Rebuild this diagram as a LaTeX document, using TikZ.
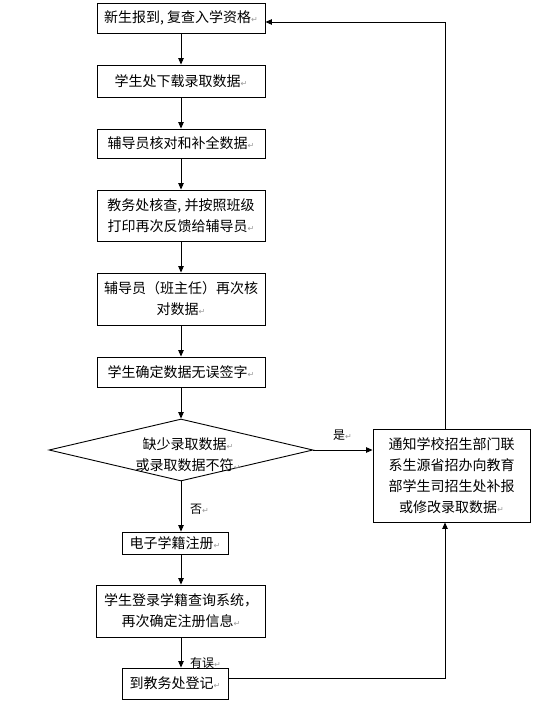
\documentclass[tikz,border=0pt]{standalone}
\usepackage{fontspec}
\usepackage{xcolor}
\setmainfont{Noto Sans CJK SC}
\newfontfamily\markfont{DejaVu Sans}
\usetikzlibrary{arrows.meta,shapes.geometric}
\newcommand{\pmk}{{\markfont\fontsize{8}{8}\selectfont\color{black!40}↵}}

\begin{document}
\begin{tikzpicture}[x=1pt,y=-1pt,
  stepbox/.style={draw,line width=0.9pt,inner sep=0pt,align=center,
    font=\fontsize{14}{21}\selectfont},
  decbox/.style={draw,line width=0.9pt,diamond,inner sep=0pt,
    minimum width=264pt,minimum height=62pt},
  flowtxt/.style={align=center,inner sep=0pt,font=\fontsize{14}{21}\selectfont},
  lbl/.style={inner sep=0pt,font=\fontsize{12}{14}\selectfont},
  arr/.style={line width=0.9pt,-{Triangle[length=6.5pt,width=5.5pt]}},
  ln/.style={line width=0.9pt}]
\useasboundingbox (0,0) rectangle (536,704);
\fill[white] (0,0) rectangle (536,704);

% main column
\node[stepbox,minimum width=168pt,minimum height=30pt] (arrive) at (181,18) {新生报到, 复查入学资格\pmk};
\node[stepbox,minimum width=168pt,minimum height=32pt] (download) at (181,81) {学生处下载录取数据\pmk};
\node[stepbox,minimum width=168pt,minimum height=29pt] (tutor) at (181,143.5) {辅导员核对和补全数据\pmk};
\node[stepbox,minimum width=168pt,minimum height=51pt] (office) at (181,215.5) {教务处核查, 并按照班级\\打印再次反馈给辅导员\pmk};
\node[stepbox,minimum width=168pt,minimum height=52pt] (recheck) at (181,299) {辅导员（班主任）再次核\\对数据\pmk};
\node[stepbox,minimum width=168pt,minimum height=30pt] (sign) at (181,372) {学生确定数据无误签字\pmk};
\node[decbox] (lack) at (181,450) {};
\node[flowtxt] (lacktxt) at (188,455) {缺少录取数据\pmk\\或录取数据不符\pmk};
\node[stepbox,minimum width=106pt,minimum height=22pt] (enrol) at (175,543) {电子学籍注册\pmk};
\node[stepbox,minimum width=169pt,minimum height=52pt] (login) at (181,611) {学生登录学籍查询系统，\\再次确定注册信息\pmk};
\node[stepbox,minimum width=106pt,minimum height=31pt] (reg) at (175,683.5) {到教务处登记\pmk};

% side box
\node[stepbox,minimum width=157pt,minimum height=93pt,text width=150pt] (notify) at (451.5,475.5)
  {通知学校招生部门联\\系生源省招办向教育\\部学生司招生处补报\\或修改录取数据\pmk};

% connectors
\draw[arr] (arrive) -- (download);
\draw[arr] (download) -- (tutor);
\draw[arr] (tutor) -- (office);
\draw[arr] (office) -- (recheck);
\draw[arr] (recheck) -- (sign);
\draw[arr] (sign) -- (lack);
\draw[arr] (lack.south) -- (lack.south |- enrol.north);
\draw[arr] (login.north |- enrol.south) -- (login.north);
\draw[arr] (login.south) -- (login.south |- reg.north);
\draw[arr] (lack.east) -- (notify.west |- lack.east);
\draw[arr] ([xshift=-6.5pt]notify.north) |- ([yshift=-4pt]arrive.east);
\draw[arr] ([yshift=5.5pt]reg.east) -| ([xshift=-6.5pt]notify.south);

% labels
\node[lbl,anchor=west] (yes) at (333,435) {是\pmk};
\node[lbl,anchor=west] (no) at (190,509) {否\pmk};
\node[lbl,anchor=west] (wrong) at (190,663) {有误\pmk};
\end{tikzpicture}
\end{document}
